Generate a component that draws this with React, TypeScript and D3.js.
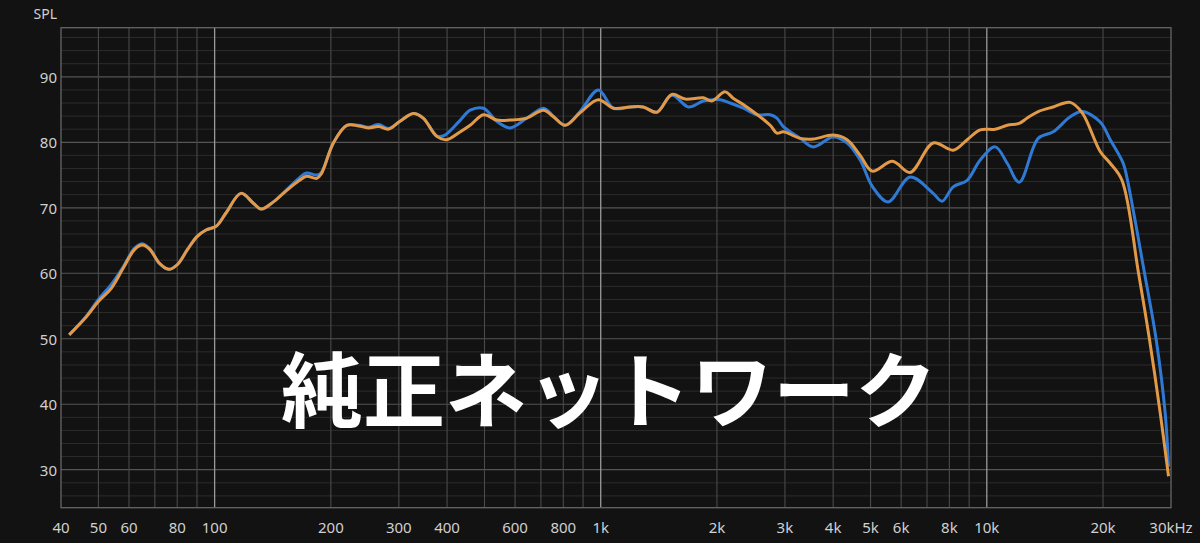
import React from "react";
import * as d3 from "d3";

const W = 1200;
const H = 543;

const yTicks = [30, 40, 50, 60, 70, 80, 90];
const xTickValues = [40, 50, 60, 80, 100, 200, 300, 400, 600, 800, 1000, 2000, 3000, 4000, 5000, 6000, 8000, 10000, 20000, 30000];
const xTickLabels = ["40", "50", "60", "80", "100", "200", "300", "400", "600", "800", "1k", "2k", "3k", "4k", "5k", "6k", "8k", "10k", "20k", "30kHz"];
const xGridValues = [50, 60, 70, 80, 90, 100, 200, 300, 400, 500, 600, 700, 800, 900, 1000, 2000, 3000, 4000, 5000, 6000, 7000, 8000, 9000, 10000, 20000];
const brightGrid = [100, 1000, 10000];

const orangeFreq = [42, 46.6, 50, 54, 58, 62, 65, 68, 72, 76, 80, 85, 90, 95, 101, 107, 117, 126, 132, 142, 154, 166, 173, 184, 189, 203, 220, 236, 250, 266, 282, 302, 327, 347, 376, 399, 430, 459, 497, 538, 582, 644, 711, 754, 809, 884, 986, 1079, 1192, 1288, 1398, 1528, 1655, 1845, 1940, 2100, 2207, 2390, 2747, 2859, 2973, 3286, 3553, 4000, 4348, 4700, 5048, 5700, 6332, 7264, 8184, 8896, 9616, 10516, 11295, 12134, 12726, 13589, 14859, 16448, 17668, 19667, 20880, 22392, 24720, 26400, 28140, 29560];
const orangeSpl = [50.6, 53.4, 55.7, 57.7, 60.8, 63.6, 64.3, 63.6, 61.5, 60.6, 61.3, 63.6, 65.6, 66.6, 67.2, 69.2, 72.2, 70.7, 69.8, 70.9, 72.7, 74.2, 74.8, 74.5, 75.2, 79.9, 82.6, 82.5, 82.2, 82.4, 82.0, 83.2, 84.4, 83.7, 80.9, 80.4, 81.5, 82.6, 84.2, 83.4, 83.4, 83.7, 84.9, 83.9, 82.6, 84.5, 86.5, 85.2, 85.4, 85.4, 84.6, 87.3, 86.6, 86.8, 86.3, 87.7, 86.7, 85.4, 82.6, 81.4, 81.6, 80.6, 80.5, 81.1, 80.4, 78.0, 75.6, 77.1, 75.4, 79.9, 78.8, 80.4, 81.9, 82.0, 82.6, 82.9, 83.7, 84.7, 85.4, 86.1, 84.5, 78.6, 76.8, 74.2, 60.0, 49.8, 38.6, 29.0];

const blueFreq = [42, 46.6, 50, 54, 58, 62, 65, 68, 72, 76, 80, 85, 90, 95, 101, 107, 117, 126, 132, 142, 154, 166, 173, 184, 189, 203, 220, 236, 250, 266, 282, 302, 327, 347, 376, 392, 430, 459, 497, 538, 582, 644, 711, 754, 809, 884, 986, 1079, 1192, 1288, 1398, 1528, 1688, 1845, 2039, 2164, 2343, 2537, 2747, 2859, 2973, 3286, 3553, 4000, 4348, 4700, 5048, 5552, 6332, 7264, 7660, 8184, 8896, 9616, 10516, 11295, 12134, 13589, 14859, 16448, 17668, 19667, 20880, 22560, 23067, 25620, 27470, 28980, 29560];
const blueSpl = [50.6, 53.5, 56.0, 58.3, 61.0, 63.8, 64.5, 63.7, 61.5, 60.6, 61.3, 63.6, 65.6, 66.6, 67.2, 69.2, 72.2, 70.7, 69.8, 70.9, 72.8, 74.6, 75.3, 75.0, 75.4, 79.9, 82.6, 82.6, 82.3, 82.7, 82.1, 83.2, 84.4, 83.7, 81.0, 81.0, 83.2, 84.9, 85.2, 83.2, 82.2, 83.7, 85.2, 84.0, 82.6, 84.7, 88.0, 85.2, 85.4, 85.4, 84.6, 87.2, 85.4, 86.3, 86.5, 86.0, 85.2, 84.2, 84.2, 83.7, 82.4, 80.6, 79.3, 80.8, 79.9, 77.3, 73.3, 70.9, 74.7, 72.2, 71.0, 73.2, 74.2, 77.3, 79.3, 76.8, 73.9, 80.6, 81.6, 83.9, 84.7, 83.1, 80.4, 76.8, 74.6, 60.0, 49.8, 38.6, 30.5];

const left = 61;
const right = 1171;
const top = 27.7;
const bottom = 507.7;

export default function App() {
  const x = d3.scaleLog().domain([40, 30000]).range([left, right]);
  const y = d3.scaleLinear().domain([24.2, 97.5]).range([bottom, top]);

  const line = d3
    .line<[number, number]>()
    .x((d) => x(d[0]))
    .y((d) => y(d[1]))
    .curve(d3.curveCatmullRom.alpha(0.5));

  const blueData: [number, number][] = blueFreq.map((f, i) => [f, blueSpl[i]]);
  const orangeData: [number, number][] = orangeFreq.map((f, i) => [f, orangeSpl[i]]);

  const minor: number[] = d3.range(26, 98, 2).filter((v) => v % 10 !== 0);
  const major: number[] = d3.range(30, 98, 10);

  const font = "'Noto Sans', 'Open Sans', sans-serif";

  return (
    <svg
      width={W}
      height={H}
      style={{ position: "absolute", left: 0, top: 0, background: "#121212" }}
    >
      <rect x={0} y={0} width={W} height={H} fill="#121212" />
      <clipPath id="plot">
        <rect x={left} y={top} width={right - left} height={bottom - top} />
      </clipPath>
      {minor.map((v) => (
        <line key={"mn" + v} x1={left} x2={right} y1={y(v)} y2={y(v)} stroke="#2c2c2c" strokeWidth={1} />
      ))}
      {major.map((v) => (
        <line key={"mj" + v} x1={left} x2={right} y1={y(v)} y2={y(v)} stroke="#555" strokeWidth={1.2} />
      ))}
      {xGridValues.map((v) => (
        <line
          key={"vx" + v}
          x1={x(v)}
          x2={x(v)}
          y1={top}
          y2={bottom}
          stroke={brightGrid.includes(v) ? "#9a9a9a" : "#4a4a4a"}
          strokeWidth={brightGrid.includes(v) ? 1.3 : 1.1}
        />
      ))}
      <rect x={left} y={top} width={right - left} height={bottom - top} fill="none" stroke="#666" strokeWidth={1.3} />

      <text
        x={609}
        y={385}
        fill="#ffffff"
        fontFamily="'Noto Sans CJK JP', sans-serif"
        fontWeight={700}
        fontSize={82}
        textAnchor="middle"
        dominantBaseline="central"
      >
        純正ネットワーク
      </text>

      <g clipPath="url(#plot)">
        <path d={line(blueData) || ""} fill="none" stroke="#2f7ad4" strokeWidth={3} strokeLinejoin="round" />
        <path d={line(orangeData) || ""} fill="none" stroke="#e39a48" strokeWidth={3} strokeLinejoin="round" />
      </g>

      {yTicks.map((v) => (
        <text
          key={"yt" + v}
          x={57}
          y={y(v)}
          fill="#d0d0d0"
          fontFamily={font}
          fontSize={15}
          textAnchor="end"
          dominantBaseline="central"
        >
          {v}
        </text>
      ))}
      {xTickValues.map((v, i) => (
        <text
          key={"xt" + v}
          x={x(v)}
          y={527}
          fill="#d0d0d0"
          fontFamily={font}
          fontSize={15}
          textAnchor="middle"
          dominantBaseline="central"
        >
          {xTickLabels[i]}
        </text>
      ))}
      <text x={57} y={13} fill="#d0d0d0" fontFamily={font} fontSize={14} textAnchor="end" dominantBaseline="central">
        SPL
      </text>
    </svg>
  );
}
